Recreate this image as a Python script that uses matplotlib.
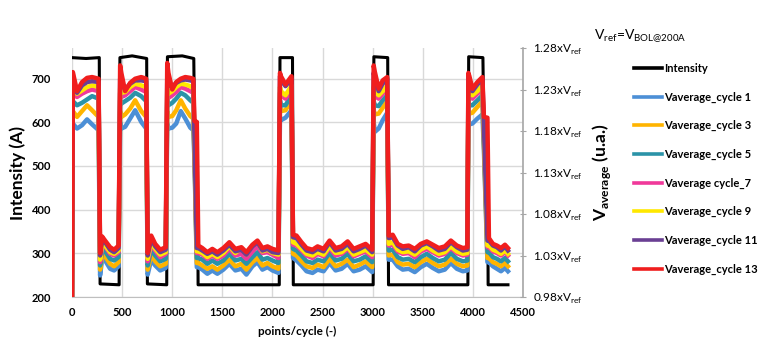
import matplotlib.pyplot as plt

plt.rcParams['font.family'] = ['Lato', 'DejaVu Sans']

# x positions (points/cycle) shared by all V_average series
points = [0, 8, 50, 100, 150, 200, 265,
          280, 300, 330, 380, 420, 465,
          480, 492, 530, 580, 630, 690, 740,
          755, 790, 830, 880, 935,
          950, 962, 1000, 1040, 1085, 1130, 1180, 1210,
          1222, 1245,
          1260, 1300, 1350, 1400, 1450, 1510, 1570, 1630, 1690, 1740, 1800, 1850, 1900, 1950, 2000, 2060,
          2075, 2085, 2130, 2190,
          2205, 2240, 2290, 2340, 2400, 2450, 2510, 2570, 2630, 2690, 2750, 2810, 2870, 2930, 2995,
          3010, 3022, 3060, 3100, 3145,
          3160, 3200, 3250, 3300, 3360, 3420, 3480, 3540, 3600, 3660, 3720, 3780, 3840, 3900, 3945,
          3955, 3965, 3995, 4045, 4095,
          4110, 4145,
          4160, 4200, 4240, 4280, 4320, 4350]

v_cycle1 = [0.980, 1.189, 1.183, 1.187, 1.194, 1.188, 1.181,
            1.006, 1.025, 1.024, 1.014, 1.012, 1.017,
            1.191, 1.183, 1.185, 1.195, 1.205, 1.191, 1.183,
            1.007, 1.025, 1.018, 1.012, 1.015,
            1.189, 1.183, 1.184, 1.189, 1.204, 1.195, 1.184, 1.181,
            1.144, 1.016,
            1.016, 1.013, 1.008, 1.012, 1.008, 1.013, 1.020, 1.012, 1.014, 1.007, 1.017, 1.022, 1.013, 1.016, 1.012, 1.009,
            1.197, 1.193, 1.196, 1.205,
            1.027, 1.024, 1.018, 1.011, 1.009, 1.013, 1.011, 1.021, 1.012, 1.014, 1.020, 1.011, 1.013, 1.017, 1.010,
            1.191, 1.179, 1.183, 1.193, 1.202,
            1.025, 1.025, 1.017, 1.013, 1.014, 1.010, 1.016, 1.020, 1.015, 1.011, 1.013, 1.021, 1.014, 1.011, 1.012,
            1.193, 1.188, 1.189, 1.195, 1.200,
            1.156, 1.022,
            1.022, 1.017, 1.014, 1.011, 1.015, 1.011]

v_cycle3 = [0.980, 1.204, 1.197, 1.204, 1.211, 1.205, 1.197,
            1.013, 1.030, 1.029, 1.020, 1.017, 1.022,
            1.204, 1.197, 1.200, 1.207, 1.217, 1.204, 1.197,
            1.013, 1.031, 1.023, 1.017, 1.020,
            1.204, 1.197, 1.198, 1.205, 1.217, 1.207, 1.198, 1.195,
            1.151, 1.021,
            1.021, 1.018, 1.014, 1.017, 1.013, 1.018, 1.025, 1.017, 1.020, 1.013, 1.022, 1.027, 1.018, 1.021, 1.017, 1.014,
            1.209, 1.204, 1.205, 1.217,
            1.032, 1.030, 1.023, 1.017, 1.015, 1.019, 1.016, 1.026, 1.017, 1.020, 1.025, 1.016, 1.019, 1.023, 1.016,
            1.205, 1.200, 1.201, 1.208, 1.216,
            1.030, 1.031, 1.022, 1.019, 1.020, 1.016, 1.022, 1.026, 1.021, 1.017, 1.019, 1.026, 1.020, 1.017, 1.018,
            1.207, 1.201, 1.202, 1.209, 1.216,
            1.164, 1.027,
            1.027, 1.022, 1.020, 1.017, 1.021, 1.017]

v_cycle5 = [0.980, 1.216, 1.211, 1.214, 1.218, 1.222, 1.219,
            1.018, 1.037, 1.035, 1.026, 1.024, 1.028,
            1.217, 1.213, 1.216, 1.220, 1.226, 1.222, 1.216,
            1.018, 1.037, 1.030, 1.023, 1.026,
            1.217, 1.211, 1.214, 1.219, 1.226, 1.223, 1.217, 1.214,
            1.156, 1.027,
            1.027, 1.025, 1.020, 1.024, 1.020, 1.024, 1.032, 1.024, 1.026, 1.020, 1.028, 1.034, 1.025, 1.027, 1.024, 1.021,
            1.217, 1.211, 1.211, 1.223,
            1.038, 1.036, 1.030, 1.023, 1.021, 1.025, 1.023, 1.033, 1.024, 1.026, 1.032, 1.023, 1.025, 1.029, 1.022,
            1.216, 1.211, 1.210, 1.217, 1.223,
            1.036, 1.037, 1.028, 1.025, 1.026, 1.022, 1.028, 1.032, 1.027, 1.023, 1.025, 1.033, 1.026, 1.023, 1.024,
            1.217, 1.211, 1.211, 1.217, 1.223,
            1.169, 1.034,
            1.034, 1.028, 1.026, 1.023, 1.027, 1.023]

v_cycle7 = [0.980, 1.225, 1.221, 1.225, 1.228, 1.230, 1.228,
            1.022, 1.042, 1.041, 1.032, 1.030, 1.034,
            1.226, 1.221, 1.223, 1.228, 1.233, 1.230, 1.227,
            1.023, 1.043, 1.036, 1.028, 1.032,
            1.226, 1.220, 1.223, 1.227, 1.233, 1.231, 1.228, 1.226,
            1.162, 1.033,
            1.033, 1.031, 1.026, 1.030, 1.026, 1.030, 1.038, 1.030, 1.032, 1.026, 1.035, 1.041, 1.033, 1.034, 1.031, 1.027,
            1.226, 1.223, 1.219, 1.230,
            1.043, 1.042, 1.036, 1.030, 1.027, 1.032, 1.029, 1.039, 1.030, 1.032, 1.038, 1.029, 1.032, 1.035, 1.028,
            1.226, 1.222, 1.219, 1.225, 1.230,
            1.042, 1.043, 1.035, 1.032, 1.033, 1.028, 1.035, 1.038, 1.034, 1.030, 1.032, 1.039, 1.033, 1.030, 1.031,
            1.227, 1.222, 1.219, 1.225, 1.230,
            1.175, 1.040,
            1.040, 1.035, 1.033, 1.030, 1.034, 1.030]

v_cycle9 = [0.980, 1.230, 1.225, 1.229, 1.233, 1.235, 1.233,
            1.025, 1.044, 1.042, 1.034, 1.032, 1.036,
            1.231, 1.226, 1.227, 1.233, 1.237, 1.235, 1.233,
            1.026, 1.046, 1.038, 1.031, 1.034,
            1.231, 1.225, 1.228, 1.233, 1.237, 1.236, 1.234, 1.231,
            1.165, 1.035,
            1.035, 1.033, 1.028, 1.032, 1.028, 1.033, 1.041, 1.033, 1.039, 1.031, 1.042, 1.047, 1.035, 1.037, 1.033, 1.031,
            1.233, 1.228, 1.223, 1.235,
            1.046, 1.044, 1.038, 1.032, 1.030, 1.034, 1.031, 1.041, 1.033, 1.034, 1.040, 1.031, 1.034, 1.037, 1.031,
            1.233, 1.228, 1.223, 1.228, 1.235,
            1.044, 1.046, 1.037, 1.034, 1.035, 1.031, 1.037, 1.041, 1.036, 1.032, 1.034, 1.041, 1.035, 1.032, 1.033,
            1.234, 1.228, 1.223, 1.228, 1.235,
            1.179, 1.042,
            1.042, 1.037, 1.035, 1.032, 1.036, 1.032]

v_cycle11 = [0.980, 1.238, 1.226, 1.235, 1.239, 1.240, 1.239,
             1.030, 1.048, 1.046, 1.037, 1.034, 1.039,
             1.243, 1.238, 1.230, 1.237, 1.241, 1.241, 1.240,
             1.030, 1.050, 1.041, 1.034, 1.037,
             1.243, 1.237, 1.233, 1.238, 1.241, 1.242, 1.241, 1.240,
             1.169, 1.039,
             1.039, 1.036, 1.032, 1.035, 1.031, 1.036, 1.043, 1.035, 1.037, 1.031, 1.041, 1.046, 1.036, 1.038, 1.034, 1.033,
             1.246, 1.242, 1.234, 1.243,
             1.052, 1.051, 1.043, 1.036, 1.034, 1.038, 1.035, 1.046, 1.036, 1.038, 1.044, 1.035, 1.038, 1.042, 1.034,
             1.250, 1.243, 1.228, 1.237, 1.243,
             1.051, 1.052, 1.042, 1.038, 1.040, 1.035, 1.042, 1.045, 1.041, 1.036, 1.038, 1.046, 1.040, 1.036, 1.037,
             1.246, 1.242, 1.228, 1.236, 1.243,
             1.185, 1.048,
             1.048, 1.042, 1.040, 1.036, 1.041, 1.036]

v_cycle13 = [0.980, 1.251, 1.228, 1.239, 1.244, 1.245, 1.243,
             1.033, 1.053, 1.048, 1.040, 1.037, 1.042,
             1.259, 1.250, 1.228, 1.238, 1.243, 1.245, 1.243,
             1.033, 1.054, 1.044, 1.037, 1.040,
             1.262, 1.250, 1.230, 1.239, 1.243, 1.245, 1.244, 1.243,
             1.192, 1.191,
             1.042, 1.039, 1.034, 1.038, 1.034, 1.039, 1.046, 1.038, 1.040, 1.034, 1.043, 1.048, 1.039, 1.041, 1.038, 1.036,
             1.250, 1.246, 1.236, 1.246,
             1.055, 1.054, 1.046, 1.039, 1.037, 1.041, 1.038, 1.048, 1.039, 1.041, 1.047, 1.038, 1.041, 1.044, 1.037,
             1.259, 1.251, 1.231, 1.241, 1.245,
             1.054, 1.055, 1.044, 1.041, 1.042, 1.038, 1.044, 1.047, 1.043, 1.039, 1.041, 1.048, 1.042, 1.039, 1.040,
             1.250, 1.246, 1.231, 1.239, 1.245,
             1.197, 1.196,
             1.051, 1.044, 1.042, 1.039, 1.043, 1.039]

# intensity profile (A)
int_points = [0, 140, 272, 280, 470, 478, 600, 745, 752, 945, 952, 1100, 1215, 1222, 1250, 1258,
              2068, 2075, 2200, 2208, 3005, 3012, 3150, 3158, 3950, 3958, 4100, 4108, 4145, 4152, 4350]
intensity = [748, 746, 748, 230, 228, 748, 752, 746, 230, 228, 750, 752, 746, 600, 600, 228,
             228, 748, 748, 228, 228, 750, 748, 228, 228, 750, 748, 610, 610, 228, 228]

series = [
    ('Vaverage_cycle 1', v_cycle1, '#4C8FD6'),
    ('Vaverage_cycle 3', v_cycle3, '#FFB400'),
    ('Vaverage_cycle 5', v_cycle5, '#2B93A8'),
    ('Vaverage cycle_7', v_cycle7, '#F0399A'),
    ('Vaverage_cycle 9', v_cycle9, '#FFE800'),
    ('Vaverage_cycle 11', v_cycle11, '#6A3F93'),
    ('Vaverage_cycle 13', v_cycle13, '#F01E1E'),
]

x_ticks = [0, 500, 1000, 1500, 2000, 2500, 3000, 3500, 4000, 4500]
i_ticks = [200, 300, 400, 500, 600, 700]
v_ticks = [0.98, 1.03, 1.08, 1.13, 1.18, 1.23, 1.28]

fig = plt.figure(figsize=(7.82, 3.53), dpi=100)
ax = fig.add_axes([0.0921, 0.1586, 0.5767, 0.7054])
ax2 = ax.twinx()

ax.plot(int_points, intensity, color='black', lw=2.2, label='Intensity')
for name, vals, col in series:
    ax2.plot(points, vals, color=col, lw=3.2, label=name)

ax.set_xlim(0, 4500)
ax.set_ylim(200, 770)
ax2.set_ylim(0.98, 1.28)

ax.set_xticks(x_ticks)
ax.set_yticks(i_ticks)
ax.grid(True, color='#d9d9d9', lw=1)
ax.set_axisbelow(True)
ax.tick_params(axis='both', length=0, labelsize=8)
ax.tick_params(axis='y', pad=15)
ax.tick_params(axis='x', pad=7)
for lab in ax.get_xticklabels() + ax.get_yticklabels():
    lab.set_fontweight('bold')

for s in ['top', 'left', 'right']:
    ax.spines[s].set_visible(False)
ax.spines['bottom'].set_color('#bfbfbf')

for s in ['top', 'left', 'bottom']:
    ax2.spines[s].set_visible(False)
ax2.spines['right'].set_color('#a6a6a6')
ax2.spines['right'].set_linewidth(1.2)
ax2.set_yticks(v_ticks)
ax2.set_yticklabels(['%.2fxV$_{\\mathregular{ref}}$' % v for v in v_ticks])
ax2.tick_params(axis='y', direction='inout', length=4, color='#a6a6a6', labelsize=8.5, pad=5)

ax.set_ylabel('Intensity (A)', fontsize=12.5, fontweight='bold', labelpad=4)
ax.set_xlabel('points/cycle (-)', fontsize=8.5, fontweight='bold', labelpad=6)
ax2.set_ylabel('V$_{\\mathregular{average}}$ (u.a.)', fontsize=12.5, fontweight='bold', labelpad=6)

fig.text(0.818, 0.90, 'V$_{\\mathregular{ref}}$=V$_{\\mathregular{BOL@200A}}$', fontsize=10,
         ha='center', va='center')

h1, l1 = ax.get_legend_handles_labels()
h2, l2 = ax2.get_legend_handles_labels()
leg = ax2.legend(h1 + h2, l1 + l2, loc='upper left', bbox_to_anchor=(0.811, 0.822),
                 bbox_transform=fig.transFigure, frameon=False, fontsize=8,
                 handlelength=2.5, labelspacing=1.58, handletextpad=0.2, borderpad=0,
                 borderaxespad=0)
for t in leg.get_texts():
    t.set_fontweight('bold')
for h in leg.get_lines():
    h.set_linewidth(2.6)

fig.savefig('out.png', dpi=100)
